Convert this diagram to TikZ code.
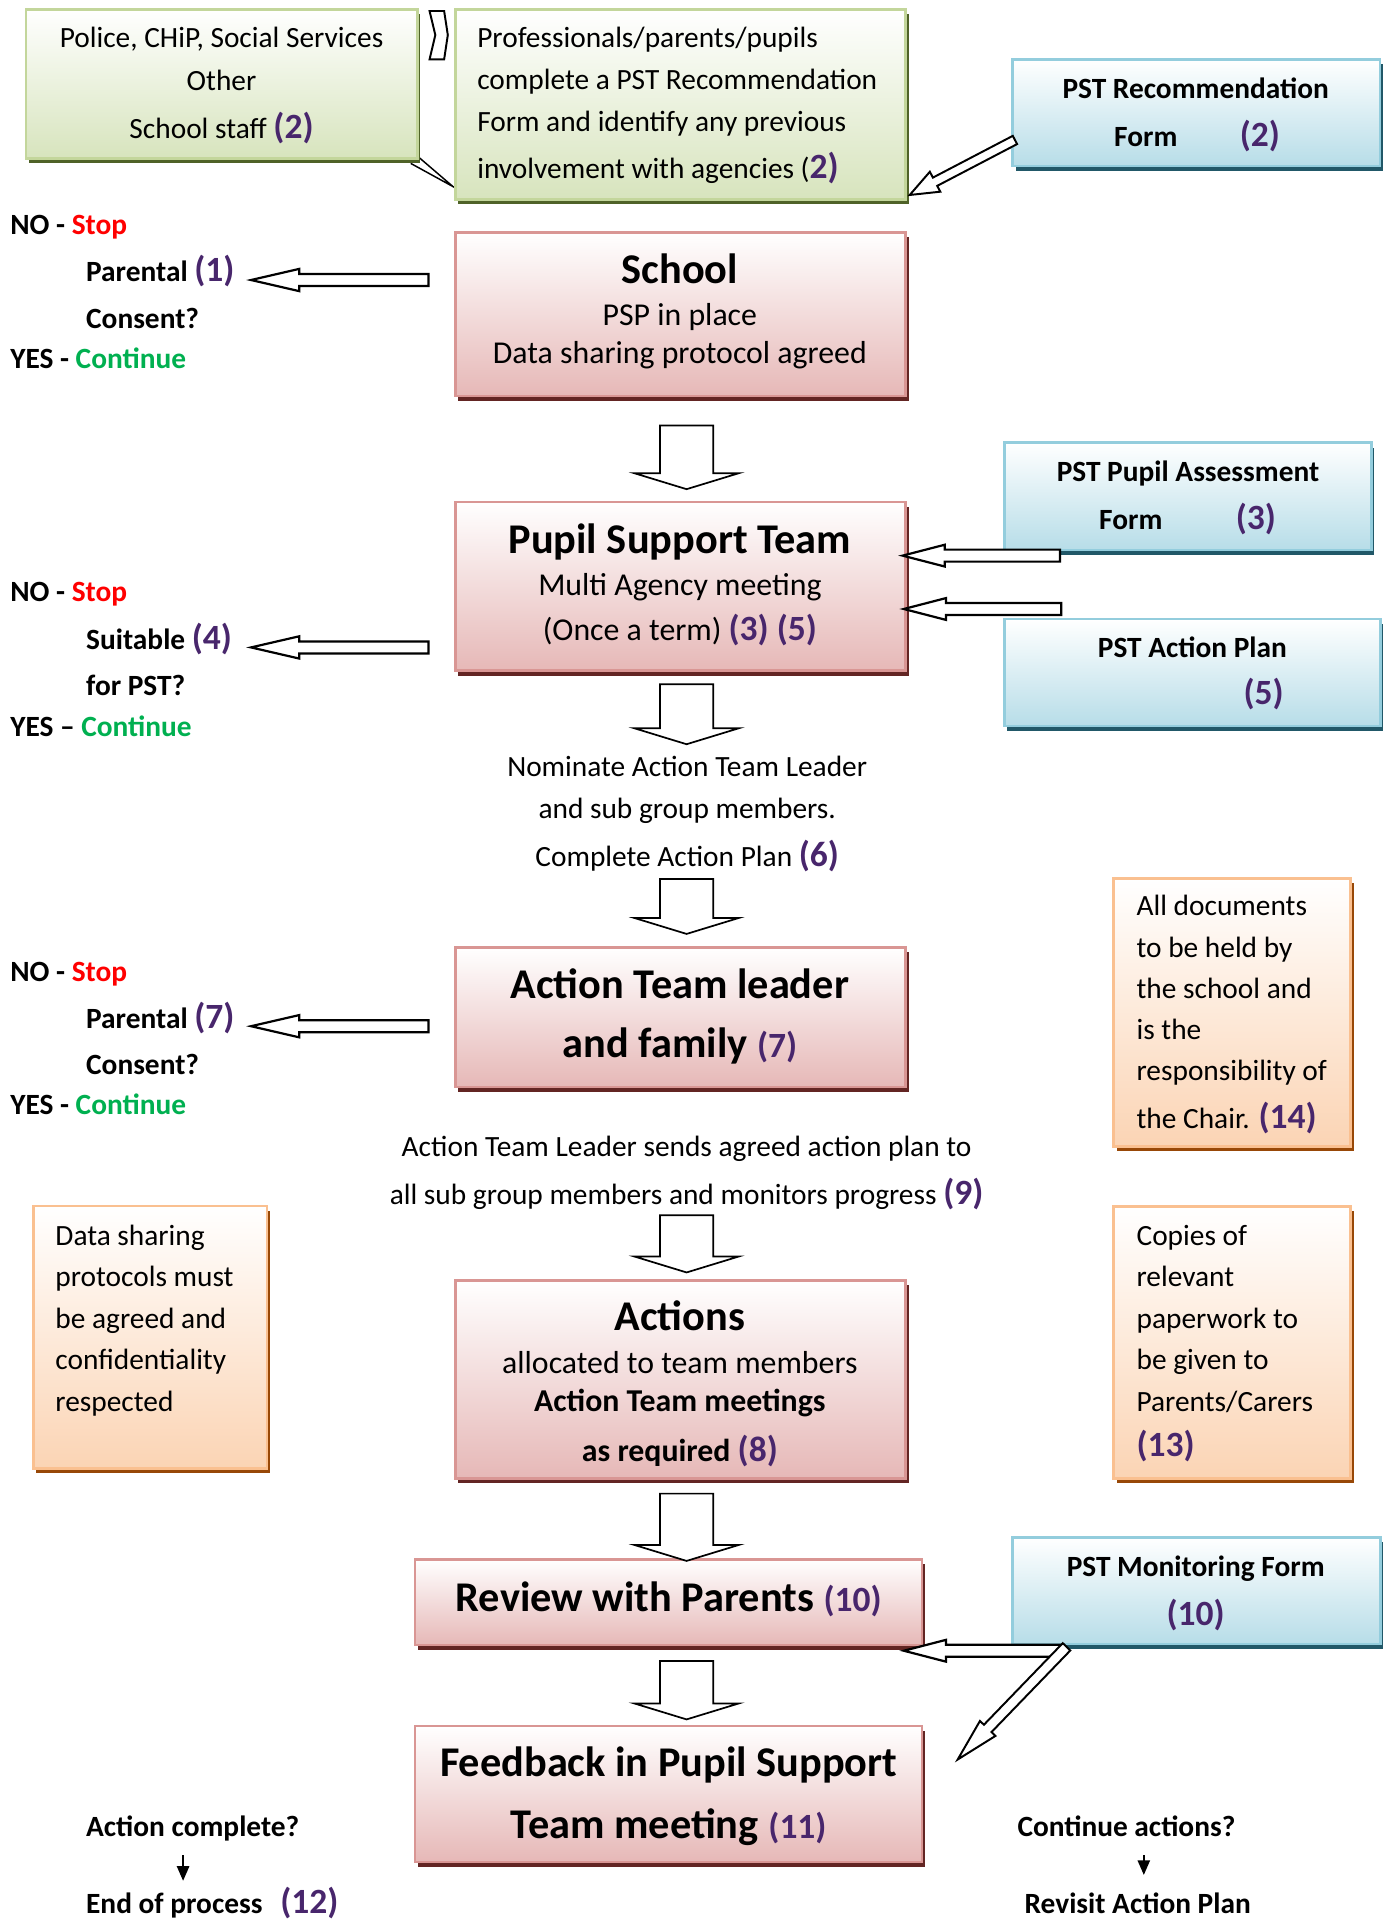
\documentclass[tikz,border=0pt]{standalone}
\usepackage{fontspec}
\setmainfont{Carlito}
\usepackage{xcolor}
\usetikzlibrary{shapes.arrows,shadows,arrows.meta}

\definecolor{numpurple}{RGB}{72,38,108}
\definecolor{stopred}{RGB}{255,0,0}
\definecolor{gogreen}{RGB}{0,176,80}
\definecolor{pinkline}{RGB}{217,150,148}
\definecolor{pinkfill}{RGB}{230,184,183}
\definecolor{pinkshade}{RGB}{99,37,35}
\definecolor{greenline}{RGB}{195,214,155}
\definecolor{greenfill}{RGB}{215,228,189}
\definecolor{greenshade}{RGB}{79,98,40}
\definecolor{blueline}{RGB}{147,205,221}
\definecolor{bluefill}{RGB}{183,221,232}
\definecolor{blueshade}{RGB}{33,88,104}
\definecolor{orangeline}{RGB}{250,192,144}
\definecolor{orangefill}{RGB}{251,212,180}
\definecolor{orangeshade}{RGB}{152,72,7}

\newcommand{\pnum}[1]{{\fontsize{14.5}{17}\selectfont\bfseries\color{numpurple}#1}}

\begin{document}
\begin{tikzpicture}[x=0.5pt,y=0.5pt,yscale=-1,xscale=1,
  box/.style={draw, line width=1pt, inner sep=0pt},
  greenbox/.style={box, draw=greenline, top color=white, bottom color=greenfill,
    drop shadow={fill=greenshade, opacity=1, shadow xshift=1.2pt, shadow yshift=-2pt}},
  pinkbox/.style={box, draw=pinkline, top color=white, bottom color=pinkfill,
    drop shadow={fill=pinkshade, opacity=1, shadow xshift=1.2pt, shadow yshift=-2pt}},
  bluebox/.style={box, draw=blueline, top color=white, bottom color=bluefill,
    drop shadow={fill=blueshade, opacity=1, shadow xshift=1.2pt, shadow yshift=-2pt}},
  orangebox/.style={box, draw=orangeline, top color=white, bottom color=orangefill,
    drop shadow={fill=orangeshade, opacity=1, shadow xshift=1.2pt, shadow yshift=-2pt}},
  txt/.style={inner sep=0pt, anchor=base, font=\fontsize{12}{14}\selectfont},
  txtw/.style={txt, anchor=base west},
  txtb/.style={txt, font=\fontsize{12}{14}\selectfont\bfseries},
  txtbw/.style={txtb, anchor=base west},
  midtxt/.style={txt, font=\fontsize{13}{15}\selectfont},
  midtxtb/.style={txt, font=\fontsize{13}{15}\selectfont\bfseries},
  headtxt/.style={txt, font=\fontsize{17.3}{20}\selectfont\bfseries},
  blockarr/.style={single arrow, draw, line width=0.7pt, fill=white, inner xsep=0pt, anchor=tail},
  downarr/.style={blockarr, inner ysep=10.5pt, single arrow head extend=10.5pt, single arrow tip angle=146, rotate=-90},
  leftarr/.style={blockarr, line width=0.9pt, inner ysep=2pt, single arrow head extend=2.1pt, single arrow tip angle=26, rotate=180, minimum height=72.5pt},
  sidearr/.style={blockarr, line width=0.9pt, inner ysep=2pt, single arrow head extend=2pt, single arrow tip angle=29, rotate=180, minimum height=64.3pt},
  smallarr/.style={line width=0.8pt, -{Triangle[length=6pt,width=5pt]}}]
\useasboundingbox (0,0) rectangle (1135,1568);

%Callout pointer of the first box
\draw [line width=0.6pt] (335.6,133.5) -- (370.2,152.5) -- (341,127.5) ;

%Boxes
\node [greenbox, minimum width=159.9pt, minimum height=60.9pt] (referrers) at (181.1,68.5) {};
\node [greenbox, minimum width=184pt, minimum height=77.7pt] (recommend) at (556,85.3) {};
\node [bluebox, minimum width=150.15pt, minimum height=43.55pt] (recform) at (977.55,92.05) {};
\node [pinkbox, minimum width=184pt, minimum height=66.8pt] (school) at (556,256.8) {};
\node [bluebox, minimum width=149.95pt, minimum height=43.85pt] (assessform) at (970.65,405.55) {};
\node [pinkbox, minimum width=184pt, minimum height=69pt] (pst) at (556,479) {};
\node [bluebox, minimum width=153.65pt, minimum height=43.6pt] (planform) at (974.35,549.6) {};
\node [orangebox, minimum width=96.85pt, minimum height=109.5pt] (docsnote) at (1006.75,827.2) {};
\node [pinkbox, minimum width=184pt, minimum height=56.9pt] (atl) at (556,831.1) {};
\node [orangebox, minimum width=95.3pt, minimum height=107.15pt] (sharenote) at (122.7,1092.65) {};
\node [orangebox, minimum width=96.85pt, minimum height=111.1pt] (copiesnote) at (1006.75,1096.9) {};
\node [pinkbox, minimum width=184pt, minimum height=80.85pt] (actions) at (556,1127.15) {};
\node [bluebox, minimum width=150.3pt, minimum height=43.6pt] (monform) at (977.7,1299.8) {};
\node [pinkbox, minimum width=207.05pt, minimum height=35pt] (review) at (546.35,1309.2) {};
\node [pinkbox, minimum width=207.05pt, minimum height=55.4pt] (feedback) at (546.35,1465.8) {};

%Shape: chevron between the top boxes
\draw [line width=0.8pt, fill=white] (351,9) -- (362.9,9) -- (365.9,28.6) -- (362.9,48.5) -- (351,48.5) -- (355.7,28.6) -- cycle ;

% Text Node
\node [txt] (ref-1) at (181,39) {Police, CHiP, Social Services};
\node [txt] (ref-2) at (181,74.3) {Other};
\node [txt] (ref-3) at (181,112.8) {School staff \pnum{(2)}};
% Text Node
\node [txtw] (rec-1) at (389.6,39) {Professionals/parents/pupils};
\node [txtw] (rec-2) at (389.6,73.5) {complete a PST Recommendation};
\node [txtw] (rec-3) at (389.6,107.3) {Form and identify any previous};
\node [txtw] (rec-4) at (389.6,145.7) {involvement with agencies (\pnum{2)}};
% Text Node
\node [txtb] (recform-1) at (977,80.3) {PST Recommendation};
\node [txtbw] (recform-2) at (910,119.9) {Form\hspace{25.5pt}\pnum{(2)}};
% Text Node
\node [headtxt] (school-1) at (555.5,231.5) {School};
\node [midtxt] (school-2) at (555.5,265.6) {PSP in place};
\node [midtxt] (school-3) at (555.5,296.9) {Data sharing protocol agreed};
% Text Node
\node [txtbw] (q1-no) at (8,192) {NO - \textcolor{stopred}{Stop}};
\node [txtbw] (q1-a) at (70,230.2) {Parental \pnum{(1)}};
\node [txtbw] (q1-b) at (70,268.3) {Consent?};
\node [txtbw] (q1-yes) at (8,301) {YES - \textcolor{gogreen}{Continue}};
% Text Node
\node [txtb] (assess-1) at (970.7,393.6) {PST Pupil Assessment};
\node [txtbw] (assess-2) at (897.7,432.5) {Form\hspace{30pt}\pnum{(3)}};
% Text Node
\node [headtxt] (pst-1) at (555.5,452.1) {Pupil Support Team};
\node [midtxt] (pst-2) at (555.5,486.2) {Multi Agency meeting};
\node [midtxt] (pst-3) at (555.5,523) {(Once a term) \pnum{(3) (5)}};
% Text Node
\node [txtb] (plan-1) at (974.3,537.1) {PST Action Plan};
\node [txtw] (plan-2) at (1015.7,576) {\pnum{(5)}};
% Text Node
\node [txtbw] (q2-no) at (8,491.6) {NO - \textcolor{stopred}{Stop}};
\node [txtbw] (q2-a) at (70,531.1) {Suitable \pnum{(4)}};
\node [txtbw] (q2-b) at (70,567.9) {for PST?};
\node [txtbw] (q2-yes) at (8,602) {YES – \textcolor{gogreen}{Continue}};
% Text Node
\node [txt] (nom-1) at (561.5,634.6) {Nominate Action Team Leader};
\node [txt] (nom-2) at (561.5,668.7) {and sub group members.};
\node [txt] (nom-3) at (561.5,708.2) {Complete Action Plan \pnum{(6)}};
% Text Node
\node [txtw] (docs-1) at (928.3,748.3) {All documents};
\node [txtw] (docs-2) at (928.3,782) {to be held by};
\node [txtw] (docs-3) at (928.3,815.7) {the school and};
\node [txtw] (docs-4) at (928.3,849.4) {is the};
\node [txtw] (docs-5) at (928.3,883.1) {responsibility of};
\node [txtw] (docs-6) at (928.3,922) {the Chair. \pnum{(14)}};
% Text Node
\node [headtxt] (atl-1) at (555.5,815.7) {Action Team leader};
\node [headtxt] (atl-2) at (555.5,863.7) {and family \pnum{(7)}};
% Text Node
\node [txtbw] (q3-no) at (8,802) {NO - \textcolor{stopred}{Stop}};
\node [txtbw] (q3-a) at (70,840.5) {Parental \pnum{(7)}};
\node [txtbw] (q3-b) at (70,877.6) {Consent?};
\node [txtbw] (q3-yes) at (8,910.5) {YES - \textcolor{gogreen}{Continue}};
% Text Node
\node [txt] (sends-1) at (561,945) {Action Team Leader sends agreed action plan to};
\node [txt] (sends-2) at (561,984.1) {all sub group members and monitors progress \pnum{(9)}};
% Text Node
\node [txtw] (share-1) at (44.9,1017.4) {Data sharing};
\node [txtw] (share-2) at (44.9,1051.2) {protocols must};
\node [txtw] (share-3) at (44.9,1085.1) {be agreed and};
\node [txtw] (share-4) at (44.9,1119.3) {confidentiality};
\node [txtw] (share-5) at (44.9,1153.2) {respected};
% Text Node
\node [txtw] (copies-1) at (928.3,1017.4) {Copies of};
\node [txtw] (copies-2) at (928.3,1051.5) {relevant};
\node [txtw] (copies-3) at (928.3,1085.5) {paperwork to};
\node [txtw] (copies-4) at (928.3,1119) {be given to};
\node [txtw] (copies-5) at (928.3,1153.2) {Parents/Carers};
\node [txtw] (copies-6) at (928.3,1190) {\pnum{(13)}};
% Text Node
\node [headtxt] (actions-1) at (555.5,1087) {Actions};
\node [midtxt] (actions-2) at (555.5,1122.1) {allocated to team members};
\node [midtxtb] (actions-3) at (555.5,1153.3) {Action Team meetings};
\node [midtxtb] (actions-4) at (555.5,1194.4) {as required \pnum{(8)}};
% Text Node
\node [txtb] (mon-1) at (977,1287.8) {PST Monitoring Form};
\node [txt] (mon-2) at (977,1327.8) {\pnum{(10)}};
\node [headtxt] (review-1) at (546.4,1317) {Review with Parents \pnum{(10)}};
\node [headtxt] (feedback-1) at (546.4,1451.8) {Feedback in Pupil Support};
\node [headtxt] (feedback-2) at (546.4,1502.1) {Team meeting \pnum{(11)}};
% Text Node
\node [txtbw] (done) at (70,1500.8) {Action complete?};
\node [txtbw] (endproc) at (70,1563.4) {End of process\hspace{7.3pt}\pnum{(12)}};
\node [txtbw] (goon) at (831,1500.8) {Continue actions?};
\node [txtbw] (revisit) at (836.8,1563.4) {Revisit Action Plan};

%Block arrows down the middle
\node [downarr, minimum height=26pt] (down-1) at (561,347) {};
\node [downarr, minimum height=24.5pt] (down-2) at (561,558.4) {};
\node [downarr, minimum height=22.4pt] (down-3) at (561,717.6) {};
\node [downarr, minimum height=23.4pt] (down-4) at (561,992.2) {};
\node [downarr, minimum height=27.5pt] (down-5) at (561,1219.7) {};
\node [downarr, minimum height=23.9pt] (down-6) at (561,1356.4) {};

%Block arrows to the questions
\node [leftarr] (ask-1) at (351,228.8) {};
\node [leftarr] (ask-2) at (351,529) {};
\node [leftarr] (ask-3) at (351,838.5) {};

%Block arrows from the forms
\node [sidearr] (in-assess) at (867,454) {};
\node [sidearr] (in-plan) at (868,497.6) {};
\node [sidearr] (in-mon) at (868,1348.8) {};
\node [blockarr, line width=0.8pt, inner ysep=1.5pt, single arrow head extend=2.7pt, single arrow tip angle=43, minimum height=48.5pt, rotate=207.6] (in-rec) at (830,114) {};
\node [blockarr, line width=0.8pt, inner ysep=1.75pt, single arrow head extend=2.25pt, single arrow tip angle=28, minimum height=64pt, rotate=226] (to-feedback) at (872,1345) {};

%Small arrows
\coordinate (done-a) at (149.6,1515.8);
\coordinate (done-b) at (149.6,1536.8);
\coordinate (goon-a) at (934.6,1515.8);
\coordinate (goon-b) at (934.6,1532);
\draw [smallarr] (done-a) -- (done-b) ;
\draw [smallarr] (goon-a) -- (goon-b) ;

\end{tikzpicture}
\end{document}
